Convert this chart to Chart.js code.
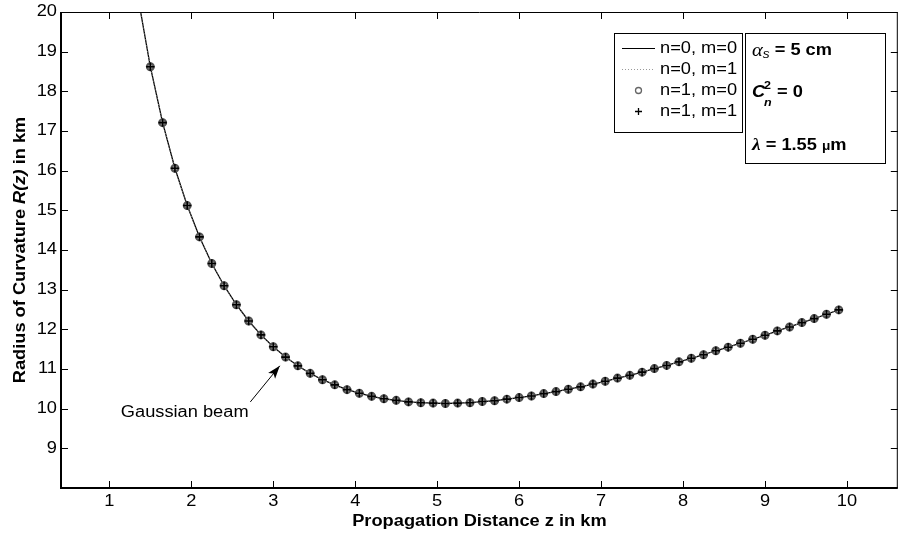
<!DOCTYPE html>
<html lang="en">
<head>
  <meta charset="utf-8">
  <title>Radius of Curvature</title>
  <style>
    * { box-sizing: border-box; margin: 0; padding: 0; }
    html, body { width: 904px; height: 539px; background: #ffffff; overflow: hidden; }
    #chart { display: block; }
  </style>
  <script src="https://cdn.jsdelivr.net/npm/chart.js"></script>
</head>
<body>
  <canvas id="chart" width="904" height="539"></canvas>
  <script>
    // values (km)
    const leadZ = [1.2, 1.35];
    const leadR = [22.60, 20.37];
    const markZ = [1.5, 1.65, 1.8, 1.95, 2.1, 2.25, 2.4, 2.55, 2.7, 2.85, 3.0, 3.15, 3.3, 3.45, 3.6, 3.75, 3.9,
      4.05, 4.2, 4.35, 4.5, 4.65, 4.8, 4.95, 5.1, 5.25, 5.4, 5.55, 5.7, 5.85, 6.0, 6.15, 6.3, 6.45, 6.6, 6.75,
      6.9, 7.05, 7.2, 7.35, 7.5, 7.65, 7.8, 7.95, 8.1, 8.25, 8.4, 8.55, 8.7, 8.85, 9.0, 9.15, 9.3, 9.45, 9.6,
      9.75, 9.9];
    const markR = [18.62, 17.21, 16.06, 15.12, 14.33, 13.66, 13.10, 12.62, 12.21, 11.86, 11.56, 11.30, 11.08,
      10.89, 10.73, 10.60, 10.48, 10.39, 10.31, 10.25, 10.21, 10.17, 10.15, 10.14, 10.13, 10.14, 10.15, 10.18,
      10.20, 10.24, 10.28, 10.32, 10.38, 10.43, 10.49, 10.55, 10.62, 10.69, 10.77, 10.84, 10.92, 11.01, 11.09,
      11.18, 11.27, 11.36, 11.46, 11.55, 11.65, 11.75, 11.85, 11.96, 12.06, 12.17, 12.27, 12.38, 12.49];
    const seriesNames = ['n=0, m=0', 'n=0, m=1', 'n=1, m=0', 'n=1, m=1'];
    const xTicks = [1, 2, 3, 4, 5, 6, 7, 8, 9, 10];
    const yTicks = [9, 10, 11, 12, 13, 14, 15, 16, 17, 18, 19, 20];

    const FONT = '"Liberation Sans", Arial, sans-serif';
    const SX = 1.14; // text in the figure is a bit wider than plain Arial

    const pts = (zs, rs) => zs.map((z, i) => ({ x: z, y: rs[i] }));
    const linePts = pts(leadZ.concat(markZ), leadR.concat(markR));
    const markPts = pts(markZ, markR);

    // draw a run of differently styled text pieces
    function rich(ctx, parts, x, y, align) {
      let total = 0;
      parts.forEach(p => { ctx.font = p.font; p.w = ctx.measureText(p.t).width * SX; total += p.w; });
      let cx = align === 'center' ? x - total / 2 : align === 'right' ? x - total : x;
      parts.forEach(p => {
        ctx.save();
        ctx.font = p.font;
        ctx.fillStyle = '#000';
        ctx.textAlign = 'left';
        ctx.textBaseline = 'middle';
        ctx.translate(cx, y + (p.dy || 0));
        ctx.scale(SX, 1);
        ctx.fillText(p.t, 0, 0);
        ctx.restore();
        cx += p.w;
      });
    }
    const txt = (ctx, t, x, y, font, align) => rich(ctx, [{ t, font }], x, y, align);

    const figure = {
      id: 'figure',
      afterDraw(chart) {
        const { ctx, chartArea: a, scales: { x, y } } = chart;
        const reg = '16px ' + FONT, bold = 'bold 16px ' + FONT;
        ctx.save();
        ctx.strokeStyle = '#000';

        // inward ticks on all four sides
        ctx.lineWidth = 1;
        ctx.beginPath();
        xTicks.forEach(v => {
          const px = Math.round(x.getPixelForValue(v)) + 0.5;
          ctx.moveTo(px, a.bottom); ctx.lineTo(px, a.bottom - 7);
          ctx.moveTo(px, a.top); ctx.lineTo(px, a.top + 7);
        });
        yTicks.forEach(v => {
          const py = Math.round(y.getPixelForValue(v)) + 0.5;
          ctx.moveTo(a.left, py); ctx.lineTo(a.left + 7, py);
          ctx.moveTo(a.right, py); ctx.lineTo(a.right - 7, py);
        });
        ctx.stroke();

        // frame
        ctx.beginPath();
        ctx.moveTo(a.left + 0.5, a.top + 0.5); ctx.lineTo(a.right - 0.5, a.top + 0.5);
        ctx.lineTo(a.right - 0.5, a.bottom);
        ctx.stroke();
        ctx.lineWidth = 2;
        ctx.beginPath();
        ctx.moveTo(a.left, a.top); ctx.lineTo(a.left, a.bottom); ctx.lineTo(a.right, a.bottom);
        ctx.stroke();

        // tick labels
        xTicks.forEach(v => txt(ctx, String(v), x.getPixelForValue(v), a.bottom + 14, reg, 'center'));
        yTicks.forEach(v => txt(ctx, String(v), a.left - 4, y.getPixelForValue(v), reg, 'right'));

        // axis titles
        rich(ctx, [
          { t: 'Propagation Distance ', font: bold },
          { t: 'z', font: bold },
          { t: ' in km', font: bold }
        ], (a.left + a.right) / 2, a.bottom + 34, 'center');
        ctx.save();
        ctx.translate(21, (a.top + a.bottom) / 2);
        ctx.rotate(-Math.PI / 2);
        rich(ctx, [
          { t: 'Radius of Curvature ', font: bold },
          { t: 'R(z)', font: 'italic bold 16px ' + FONT },
          { t: ' in km', font: bold }
        ], 0, 0, 'center');
        ctx.restore();

        // annotation arrow
        const tx = x.getPixelForValue(2.72), ty = y.getPixelForValue(10.17);
        const hx = x.getPixelForValue(3.08), hy = y.getPixelForValue(11.08);
        const ang = Math.atan2(hy - ty, hx - tx);
        ctx.lineWidth = 1;
        ctx.beginPath(); ctx.moveTo(tx, ty); ctx.lineTo(hx, hy); ctx.stroke();
        ctx.fillStyle = '#000';
        ctx.beginPath();
        ctx.moveTo(hx, hy);
        ctx.lineTo(hx - 13 * Math.cos(ang) + 4.5 * Math.sin(ang), hy - 13 * Math.sin(ang) - 4.5 * Math.cos(ang));
        ctx.lineTo(hx - 10 * Math.cos(ang), hy - 10 * Math.sin(ang));
        ctx.lineTo(hx - 13 * Math.cos(ang) - 4.5 * Math.sin(ang), hy - 13 * Math.sin(ang) + 4.5 * Math.cos(ang));
        ctx.closePath();
        ctx.fill();
        txt(ctx, 'Gaussian beam', x.getPixelForValue(1.14), y.getPixelForValue(9.89), reg, 'left');

        // legend
        ctx.fillStyle = '#fff';
        ctx.fillRect(614, 33, 128, 99);
        ctx.lineWidth = 1;
        ctx.strokeStyle = '#000';
        ctx.strokeRect(614.5, 33.5, 128, 99);
        const rows = [48, 69, 90, 111];
        ctx.beginPath(); ctx.moveTo(622, rows[0] + 0.5); ctx.lineTo(655, rows[0] + 0.5); ctx.stroke();
        ctx.save();
        ctx.strokeStyle = '#999';
        ctx.setLineDash([1, 2]);
        ctx.beginPath(); ctx.moveTo(622, rows[1] + 0.5); ctx.lineTo(655, rows[1] + 0.5); ctx.stroke();
        ctx.restore();
        ctx.save();
        ctx.strokeStyle = '#666'; ctx.lineWidth = 1.3;
        ctx.beginPath(); ctx.arc(638.5, rows[2] + 0.5, 3, 0, Math.PI * 2); ctx.stroke();
        ctx.restore();
        ctx.lineWidth = 1.3;
        ctx.beginPath();
        ctx.moveTo(635, rows[3] + 0.5); ctx.lineTo(642, rows[3] + 0.5);
        ctx.moveTo(638.5, rows[3] - 3); ctx.lineTo(638.5, rows[3] + 4);
        ctx.stroke();
        seriesNames.forEach((n, i) => txt(ctx, n, 660, rows[i] + 1, reg, 'left'));

        // parameter box
        ctx.lineWidth = 1;
        ctx.fillStyle = '#fff';
        ctx.fillRect(745, 33, 140, 130);
        ctx.strokeRect(745.5, 33.5, 140, 130);
        const it = 'italic 18px "Liberation Serif", serif';
        rich(ctx, [
          { t: 'α', font: it },
          { t: 's', font: 'italic 12px ' + FONT, dy: 4 },
          { t: ' = 5 cm', font: bold }
        ], 752, 51, 'left');
        rich(ctx, [
          { t: 'C', font: 'italic bold 16px ' + FONT }
        ], 752, 93, 'left');
        rich(ctx, [{ t: '2', font: 'bold 11px ' + FONT }], 764, 86, 'left');
        rich(ctx, [{ t: 'n', font: 'italic bold 11px ' + FONT }], 764, 103, 'left');
        rich(ctx, [{ t: ' = 0', font: bold }], 772, 93, 'left');
        rich(ctx, [
          { t: 'λ', font: 'italic bold 17px "Liberation Serif", serif' },
          { t: ' = 1.55 ', font: bold },
          { t: 'μ', font: 'bold 12px ' + FONT, dy: 1 },
          { t: 'm', font: bold }
        ], 752, 146, 'left');
        ctx.restore();
      }
    };

    new Chart(document.getElementById('chart'), {
      type: 'scatter',
      data: {
        datasets: [
          { label: seriesNames[0], data: linePts, showLine: true, pointRadius: 0, borderColor: '#000', borderWidth: 1.3, order: 4 },
          { label: seriesNames[1], data: linePts, showLine: true, pointRadius: 0, borderColor: '#888', borderWidth: 1, borderDash: [1, 2], order: 3 },
          { label: seriesNames[2], data: markPts, showLine: false, pointStyle: 'circle', pointRadius: 3.4,
            pointBorderColor: '#555', pointBorderWidth: 2.2, pointBackgroundColor: '#9a9a9a', order: 2 },
          { label: seriesNames[3], data: markPts, showLine: false, pointStyle: 'cross', pointRadius: 4.2,
            pointBorderColor: '#000', pointBorderWidth: 1.6, order: 1 }
        ]
      },
      options: {
        responsive: false,
        animation: false,
        events: [],
        layout: { padding: { left: 61, top: 12, right: 1, bottom: 51 } },
        plugins: { legend: { display: false }, tooltip: { enabled: false } },
        scales: {
          x: { type: 'linear', display: false, min: 0.41, max: 10.62 },
          y: { type: 'linear', display: false, min: 8, max: 20 }
        }
      },
      plugins: [figure]
    });
  </script>
</body>
</html>
